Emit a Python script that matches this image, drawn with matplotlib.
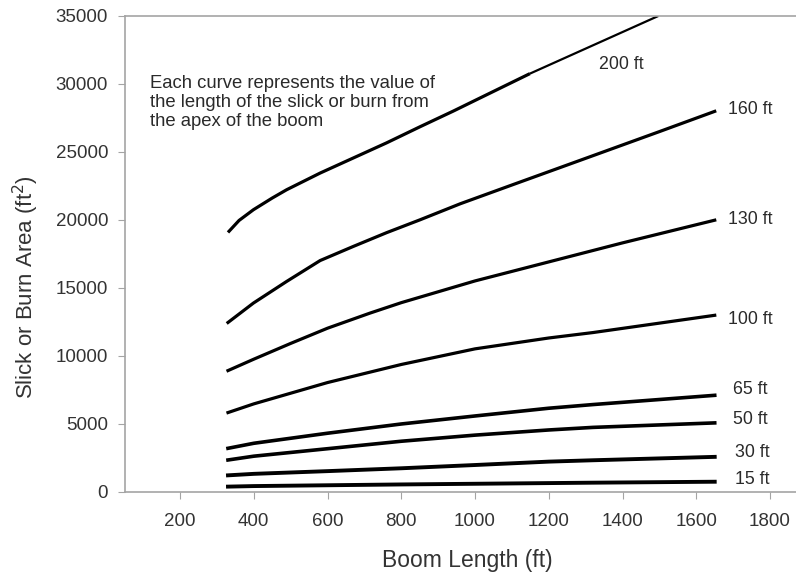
import matplotlib.pyplot as plt

plt.rcParams['font.family'] = ['Liberation Sans', 'DejaVu Sans']

# boom length (ft) and slick/burn area (ft^2)
# 200 ft curve: heavy part, then a thinner stroke up to the top of the frame
x_200 = [330, 360, 399, 450, 489, 580, 670, 760, 851, 941, 1014, 1149]
y_200 = [19070, 19950, 20740, 21600, 22210, 23440, 24550, 25660, 26850, 28000, 28970, 30760]
x_200_end = [1149, 1497]
y_200_end = [30760, 35000]

x_160 = [330, 399, 489, 580, 670, 760, 851, 960, 1100, 1320, 1500, 1650]
y_160 = [12440, 13870, 15460, 17000, 18040, 19050, 20000, 21180, 22560, 24720, 26490, 27980]

x_130 = [330, 400, 500, 600, 715, 800, 1000, 1200, 1400, 1650]
y_130 = [8900, 9740, 10900, 12020, 13130, 13900, 15500, 16900, 18300, 19970]

x_std = [330, 400, 600, 800, 1000, 1200, 1320, 1650]
y_100 = [5810, 6450, 8020, 9350, 10500, 11300, 11700, 12970]
y_65 = [3180, 3550, 4290, 4970, 5560, 6130, 6400, 7080]
y_50 = [2320, 2600, 3150, 3700, 4150, 4530, 4720, 5050]
y_30 = [1190, 1300, 1500, 1710, 1950, 2200, 2300, 2550]
y_15 = [360, 400, 460, 520, 570, 620, 650, 720]

curve_labels = ["200 ft", "160 ft", "130 ft", "100 ft", "65 ft", "50 ft", "30 ft", "15 ft"]
label_x = [1335, 1686, 1686, 1686, 1700, 1700, 1705, 1705]
label_y = [31420, 28110, 20000, 12640, 7480, 5270, 2840, 920]

note = ("Each curve represents the value of\n"
        "the length of the slick or burn from\n"
        "the apex of the boom")

grey = '#a4a4a4'
ink = '#2a2a2a'

fig = plt.figure(figsize=(7.96, 5.75), dpi=100)
ax = fig.add_axes([0.1567, 0.1452, 0.857, 0.827])

ax.plot(x_200, y_200, color='black', lw=2.3, solid_capstyle='butt')
ax.plot(x_200_end, y_200_end, color='black', lw=1.6, solid_capstyle='butt')
ax.plot(x_160, y_160, color='black', lw=2.3)
ax.plot(x_130, y_130, color='black', lw=2.3)
ax.plot(x_std, y_100, color='black', lw=2.3)
ax.plot(x_std, y_65, color='black', lw=2.6)
ax.plot(x_std, y_50, color='black', lw=2.6)
ax.plot(x_std, y_30, color='black', lw=2.8)
ax.plot(x_std, y_15, color='black', lw=2.8)

for lab, lx, ly in zip(curve_labels, label_x, label_y):
    ax.text(lx, ly, lab, ha='left', va='center', fontsize=12.8, color=ink)

ax.text(119, 30650, note, ha='left', va='top', fontsize=13.3,
        color=ink, linespacing=1.14)

ax.set_xlim(50, 1900)
ax.set_ylim(0, 35000)
ax.set_xticks(range(200, 1801, 200))
ax.set_yticks(range(0, 35001, 5000))

for side in ['left', 'bottom', 'top']:
    ax.spines[side].set_color(grey)
    ax.spines[side].set_linewidth(1.2)
ax.spines['right'].set_visible(False)
ax.tick_params(direction='out', length=5, color=grey, labelsize=13.5,
               labelcolor='#333333')
ax.tick_params(axis='x', pad=10.5)
ax.tick_params(axis='y', pad=7)

ax.set_xlabel("Boom Length (ft)", fontsize=16.5, color='#333333')
ax.set_ylabel("Slick or Burn Area (ft$^2$)", fontsize=16, color='#333333')
ax.xaxis.set_label_coords(0.502, -0.121)
ax.yaxis.set_label_coords(-0.123, 0.431)

fig.savefig("out.png", dpi=100)
